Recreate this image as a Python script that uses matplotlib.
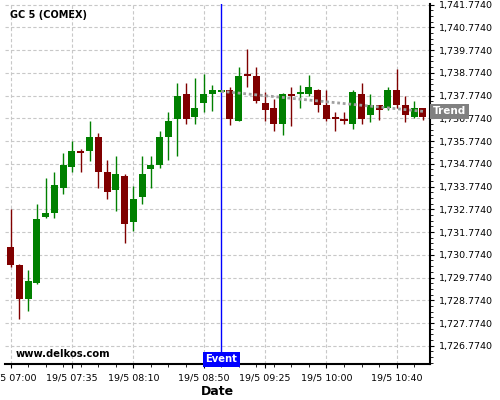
import numpy as np
import matplotlib
matplotlib.use("Agg")
import matplotlib.pyplot as plt
from matplotlib.ticker import FixedLocator, AutoMinorLocator, FuncFormatter

# 5 minute candles, 19/5 07:00 .. 10:55
opens = [1731.11, 1730.32, 1728.84, 1729.53, 1732.43, 1732.61, 1733.72, 1734.65,
         1735.35, 1735.35, 1735.95, 1734.41, 1733.63, 1734.24, 1732.23, 1733.33,
         1734.56, 1734.73, 1735.95, 1736.74, 1737.84, 1736.83, 1737.46, 1737.85,
         1737.94, 1738.00, 1736.67, 1738.72, 1738.63, 1737.44, 1737.23, 1736.53,
         1737.81, 1737.85, 1737.85, 1738.02, 1737.36, 1736.83, 1736.74, 1736.53,
         1737.84, 1736.93, 1737.36, 1737.24, 1738.02, 1737.36, 1736.84, 1737.23]
closes = [1730.34, 1728.84, 1729.62, 1732.35, 1732.61, 1733.84, 1734.72, 1735.33,
          1735.26, 1735.95, 1734.42, 1733.55, 1734.32, 1732.14, 1733.23, 1734.32,
          1734.72, 1735.95, 1736.65, 1737.75, 1736.74, 1737.23, 1737.84, 1738.00,
          1738.02, 1736.75, 1738.63, 1738.63, 1737.53, 1737.15, 1736.53, 1737.84,
          1737.77, 1737.90, 1738.15, 1737.37, 1736.75, 1736.75, 1736.65, 1737.93,
          1736.75, 1737.36, 1737.15, 1738.02, 1737.37, 1736.93, 1737.23, 1736.84]
highs = [1732.80, 1730.35, 1730.09, 1732.99, 1734.13, 1734.40, 1735.23, 1735.79,
         1735.42, 1736.64, 1736.13, 1734.94, 1735.10, 1734.31, 1733.81, 1735.10,
         1735.10, 1736.21, 1737.05, 1738.32, 1738.32, 1738.53, 1738.71, 1738.22,
         1738.02, 1738.13, 1739.01, 1739.81, 1739.01, 1737.92, 1737.61, 1737.87,
         1738.13, 1738.22, 1738.69, 1738.05, 1738.02, 1737.04, 1737.04, 1738.00,
         1738.31, 1737.84, 1737.37, 1738.15, 1738.93, 1737.75, 1737.52, 1737.23]
lows = [1730.22, 1727.96, 1728.29, 1729.50, 1732.40, 1732.40, 1733.43, 1734.40,
        1734.40, 1734.91, 1733.70, 1733.21, 1732.71, 1731.30, 1731.81, 1733.00,
        1733.70, 1734.60, 1734.93, 1735.10, 1736.51, 1736.51, 1737.04, 1737.11,
        1737.94, 1736.49, 1736.64, 1738.13, 1737.43, 1736.64, 1736.20, 1736.03,
        1736.42, 1737.21, 1737.77, 1737.04, 1736.65, 1736.20, 1736.52, 1736.32,
        1736.51, 1736.62, 1736.71, 1737.15, 1737.24, 1736.62, 1736.80, 1736.71]

tick_idx = [0, 7, 14, 22, 29, 36, 44]
tick_labels = ["19/5 07:00", "19/5 07:35", "19/5 08:10", "19/5 08:50",
               "19/5 09:25", "19/5 10:00", "19/5 10:40"]
price_ticks = [1726.774 + k for k in range(16)]

event_idx = 24
trend_x = [24, 47]
trend_y = [1737.96, 1737.08]

GREEN = "#008000"
RED = "#800000"

fig = plt.figure(figsize=(5, 4), dpi=100)
ax = fig.add_axes([0.01, 0.09, 0.85, 0.90])

x = np.arange(len(opens))
o = np.array(opens)
c = np.array(closes)
cols = [GREEN if cc >= oo else RED for oo, cc in zip(o, c)]

# wicks then bodies
ax.vlines(x, lows, highs, colors=cols, linewidth=1.0, zorder=3)
body_h = np.maximum(np.abs(c - o), 0.06)
ax.bar(x, body_h, bottom=np.minimum(o, c), width=0.8, color=cols,
       linewidth=0, zorder=4)

ax.axvline(event_idx, color="#0000ff", linewidth=1.0, zorder=2)
ax.plot(trend_x, trend_y, color="#a0a0a0", linewidth=2, linestyle=(0, (1, 1)),
        zorder=5)

ax.set_xlim(-0.63, 47.8)
ax.set_ylim(1725.972, 1741.80)

ax.yaxis.tick_right()
ax.yaxis.set_major_locator(FixedLocator(price_ticks))
ax.yaxis.set_minor_locator(AutoMinorLocator(4))
ax.yaxis.set_major_formatter(FuncFormatter(lambda v, p: f"{v:,.4f}"))
ax.xaxis.set_major_locator(FixedLocator(tick_idx))
ax.xaxis.set_minor_locator(FixedLocator(list(range(0, 48, 2))))
ax.set_xticklabels(tick_labels)

ax.tick_params(axis="both", which="major", labelsize=6.8, length=3, width=0.8)
ax.tick_params(axis="both", which="minor", length=2, width=0.6)
ax.grid(True, which="major", color="#c8c8c8", linestyle=(0, (3, 2)), linewidth=0.8)
ax.set_axisbelow(True)

for s in ["left", "top"]:
    ax.spines[s].set_visible(False)
ax.spines["right"].set_linewidth(1.5)
ax.spines["bottom"].set_linewidth(1.5)

ax.set_xlabel("Date", fontsize=9, fontweight="bold", labelpad=2)

ax.text(0.012, 0.982, "GC 5 (COMEX)", transform=ax.transAxes, fontsize=7,
        fontweight="bold", va="top", ha="left")
ax.text(0.024, 0.028, "www.delkos.com", transform=ax.transAxes, fontsize=7.2,
        fontweight="bold", va="center", ha="left")

ax.annotate("Event", xy=(event_idx, 0.0), xycoords=("data", "axes fraction"),
            ha="center", va="bottom", fontsize=7.2, fontweight="bold", color="white",
            bbox=dict(boxstyle="square,pad=0.25", fc="#0000ff", ec="none"), zorder=6)
ax.annotate("Trend", xy=(1.0, trend_y[-1]), xycoords=("axes fraction", "data"),
            xytext=(2, 0), textcoords="offset points",
            ha="left", va="center", fontsize=7.5, fontweight="bold", color="white",
            bbox=dict(boxstyle="square,pad=0.25", fc="#808080", ec="none"),
            annotation_clip=False, zorder=6)

fig.savefig("out.png", dpi=100)
